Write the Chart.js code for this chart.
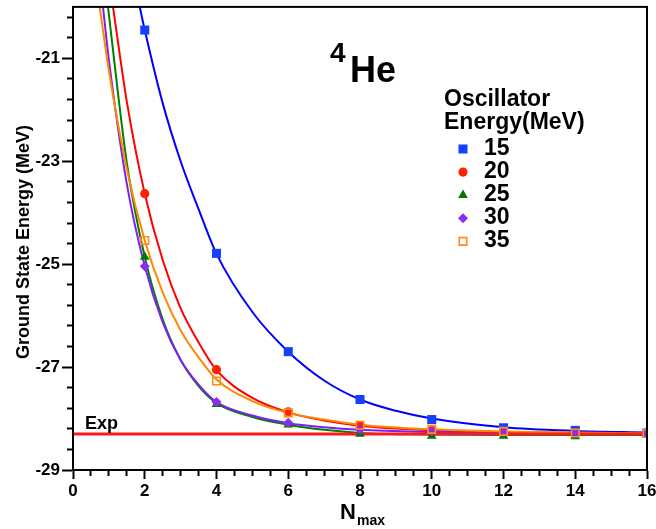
<!DOCTYPE html>
<html lang="en">
<head>
<meta charset="UTF-8">
<title>4He ground state energy vs Nmax</title>
<script src="https://cdn.jsdelivr.net/npm/chart.js@4"></script>
<style>
    html, body { margin: 0; padding: 0; background: #fff; }
    #wrap { width: 656px; height: 529px; }
</style>
</head>
<body>
<div id="wrap"><canvas id="chart" width="656" height="529"></canvas></div>
<script>
// computed ground state energies (MeV) for each oscillator energy
const nmax = [2, 4, 6, 8, 10, 12, 14, 16];
const e15 = [-20.45, -24.79, -26.70, -27.63, -28.02, -28.18, -28.23, -28.28];
const e20 = [-23.63, -27.05, -27.87, -28.14, -28.23, -28.26, -28.28, -28.29];
const e25 = [-24.86, -27.72, -28.12, -28.30, -28.34, -28.34, -28.35, -28.32];
const e30 = [-25.04, -27.68, -28.08, -28.22, -28.25, -28.27, -28.28, -28.29];
const e35 = [-24.54, -27.27, -27.89, -28.13, -28.21, -28.25, -28.28, -28.29];

// fitted curves as [Nmax, E]
const fit15 = [[1.86, -20], [2, -20.45], [2.5, -21.87], [3, -23.00], [3.5, -23.93], [4, -24.80], [5, -25.93], [6, -26.70],
               [7, -27.26], [8, -27.63], [9, -27.85], [10, -28.00], [12, -28.17], [14, -28.24], [16, -28.27]];
const fit20 = [[1.115, -20], [1.5, -21.84], [2, -23.63], [2.5, -24.92], [3, -25.86], [3.5, -26.52], [4, -27.06], [5, -27.60],
               [6, -27.88], [7, -28.04], [8, -28.14], [10, -28.23], [12, -28.26], [14, -28.28], [16, -28.29]];
const fit25 = [[0.975, -20], [1.5, -23.03], [2, -24.86], [2.5, -26.07], [3, -26.86], [3.5, -27.37], [4, -27.70], [5, -27.97],
               [6, -28.12], [7, -28.22], [8, -28.28], [10, -28.31], [12, -28.32], [16, -28.32]];
const fit30 = [[0.836, -20], [1, -21.03], [1.5, -23.44], [2, -25.04], [2.5, -26.13], [3, -26.86], [3.5, -27.34], [4, -27.68],
               [5, -27.94], [6, -28.09], [7, -28.17], [8, -28.22], [10, -28.26], [12, -28.28], [16, -28.29]];
const fit35 = [[0.744, -20], [1, -21.24], [1.5, -23.15], [2, -24.54], [2.5, -25.55], [3, -26.29], [3.5, -26.81], [4, -27.24],
               [5, -27.66], [6, -27.89], [7, -28.02], [8, -28.12], [10, -28.21], [12, -28.25], [14, -28.27], [16, -28.29]];

const expEnergy = -28.3;
const hwLabels = ['15', '20', '25', '30', '35'];
const xTickLabels = [0, 2, 4, 6, 8, 10, 12, 14, 16];
const yTickLabels = [-29, -27, -25, -23, -21];

const FONT = "'Liberation Sans', Arial, Helvetica, sans-serif";

const styles = [
    { pointStyle: 'rect',     radius: 6.4, fill: '#1540ff', stroke: '#1540ff', line: '#0000ff', bw: 0 },
    { pointStyle: 'circle',   radius: 4.6, fill: '#ff2200', stroke: '#ff2200', line: '#ff0000', bw: 0 },
    { pointStyle: 'triangle', radius: 5.6, fill: '#007700', stroke: '#007700', line: '#008000', bw: 0 },
    { pointStyle: 'rectRot',  radius: 5.0, fill: '#8b2cf5', stroke: '#8b2cf5', line: '#8020f0', bw: 0 },
    { pointStyle: 'rect',     radius: 5.3, fill: 'rgba(0,0,0,0)', stroke: '#ff8c1a', line: '#ff8800', bw: 1.6 }
];
const series = [e15, e20, e25, e30, e35];
const fits = [fit15, fit20, fit25, fit30, fit35];

const datasets = [];
series.forEach((vals, i) => {
    const s = styles[i];
    datasets.push({
        label: hwLabels[i],
        data: nmax.map((n, j) => ({ x: n, y: vals[j] })),
        showLine: false,
        pointStyle: s.pointStyle,
        pointRadius: s.radius,
        pointBackgroundColor: s.fill,
        pointBorderColor: s.stroke,
        pointBorderWidth: s.bw,
        order: 4 - i
    });
});
datasets.push({
    label: 'Exp',
    data: [{ x: 0, y: expEnergy }, { x: 16, y: expEnergy }],
    showLine: true,
    borderColor: '#ff1a1a',
    borderWidth: 3,
    pointRadius: 0,
    order: 5
});
fits.forEach((pts, i) => {
    datasets.push({
        label: 'fit ' + hwLabels[i],
        data: pts.map(p => ({ x: p[0], y: p[1] })),
        showLine: true,
        borderColor: styles[i].line,
        borderWidth: 2,
        pointRadius: 0,
        cubicInterpolationMode: 'monotone',
        order: 10 - i
    });
});

// frame, legend and labels drawn on top of the chart
const annotations = {
    id: 'annotations',
    afterDraw(chart) {
        const ctx = chart.ctx;
        const a = chart.chartArea;
        ctx.save();
        ctx.strokeStyle = '#000';
        ctx.lineWidth = 2;
        ctx.strokeRect(a.left, a.top, a.right - a.left, a.bottom - a.top);

        ctx.fillStyle = '#000';
        ctx.textBaseline = 'alphabetic';
        ctx.textAlign = 'left';
        ctx.font = 'bold 28px ' + FONT;
        ctx.fillText('4', 330, 62);
        ctx.font = 'bold 36px ' + FONT;
        ctx.fillText('He', 350, 82);

        ctx.font = 'bold 23px ' + FONT;
        ctx.fillText('Oscillator', 444, 106);
        ctx.fillText('Energy(MeV)', 444, 129);

        hwLabels.forEach((lab, i) => {
            const s = styles[i];
            const y = 149 + 23.1 * i;
            ctx.fillStyle = s.fill;
            ctx.strokeStyle = s.stroke;
            ctx.lineWidth = s.bw;
            Chart.helpers.drawPoint(ctx, { pointStyle: s.pointStyle, radius: s.radius, borderWidth: s.bw, rotation: 0 }, 463, y);
            ctx.fillStyle = '#000';
            ctx.font = 'bold 23px ' + FONT;
            ctx.fillText(lab, 484, y + 6);
        });

        ctx.fillStyle = '#000';
        ctx.font = 'bold 18px ' + FONT;
        ctx.fillText('Exp', 85, 429);

        ctx.font = 'bold 22px ' + FONT;
        ctx.fillText('N', 340, 519);
        ctx.font = 'bold 14px ' + FONT;
        ctx.fillText('max', 357, 525);

        ctx.translate(24, 242);
        ctx.rotate(-Math.PI / 2);
        ctx.textAlign = 'center';
        ctx.textBaseline = 'middle';
        ctx.font = 'bold 18px ' + FONT;
        ctx.fillText('Ground State Energy (MeV)', 0, 0);
        ctx.restore();
    }
};

new Chart(document.getElementById('chart'), {
    type: 'scatter',
    data: { datasets: datasets },
    plugins: [annotations],
    options: {
        responsive: false,
        animation: false,
        devicePixelRatio: 1,
        layout: { padding: { top: 4, right: 9, left: 0, bottom: 0 } },
        plugins: { legend: { display: false }, tooltip: { enabled: false } },
        scales: {
            x: {
                type: 'linear',
                min: 0,
                max: 16,
                afterBuildTicks(scale) {
                    const t = [];
                    for (let k = 0; k <= 32; k++) t.push({ value: k * 0.5 });
                    scale.ticks = t;
                },
                afterFit(scale) {
                    scale.height = 59;
                    scale.paddingLeft = 0;
                    scale.paddingRight = 0;
                },
                ticks: {
                    autoSkip: false,
                    maxRotation: 0,
                    padding: 2,
                    color: '#000',
                    font: { family: FONT, size: 17, weight: 'bold' },
                    callback: v => xTickLabels.includes(v) ? String(v) : ''
                },
                grid: {
                    drawOnChartArea: false,
                    tickLength: 9,
                    tickWidth: 2,
                    tickColor: '#000',
                    tickBorderDash: c => (c.tick && xTickLabels.includes(c.tick.value)) ? [] : [5, 100]
                },
                border: { color: '#000', width: 2 }
            },
            y: {
                type: 'linear',
                min: -29,
                max: -20,
                afterBuildTicks(scale) {
                    const t = [];
                    for (let k = 0; k <= 22; k++) t.push({ value: Math.round((-29 + k * 0.4) * 10) / 10 });
                    scale.ticks = t;
                },
                afterFit(scale) {
                    scale.width = 73;
                    scale.paddingTop = 0;
                    scale.paddingBottom = 0;
                },
                ticks: {
                    autoSkip: false,
                    padding: 2,
                    color: '#000',
                    font: { family: FONT, size: 17, weight: 'bold' },
                    callback: v => yTickLabels.includes(v) ? String(v) : ''
                },
                grid: {
                    drawOnChartArea: false,
                    tickLength: 11,
                    tickWidth: 2,
                    tickColor: '#000',
                    tickBorderDash: c => (c.tick && yTickLabels.includes(c.tick.value)) ? [] : [0, 5, 5, 100]
                },
                border: { color: '#000', width: 2 }
            }
        }
    }
});
</script>
</body>
</html>
